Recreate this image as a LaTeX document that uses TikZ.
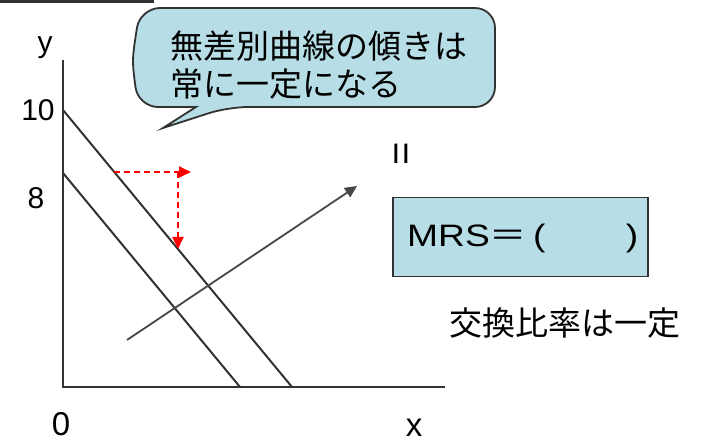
\documentclass[tikz,border=0pt]{standalone}
\usepackage{fontspec}
\usepackage{graphicx}
\setmainfont{Liberation Sans}
\newfontfamily\jp{Noto Sans CJK JP}
\usetikzlibrary{arrows.meta}
\definecolor{boxblue}{RGB}{183,222,230}
\definecolor{edge}{RGB}{50,50,50}
\tikzset{
  lab/.style={font=\fontsize{30}{30}\selectfont, inner sep=0pt},
  jlab/.style={font=\jp\fontsize{33}{40}\selectfont, inner sep=0pt, anchor=west},
  axisline/.style={line width=2.6pt, draw=edge},
  budget/.style={line width=2pt, draw=edge},
  ray/.style={line width=1.8pt, draw=edge!90, -{Triangle[length=12pt,width=11pt]}},
  redarrow/.style={line width=1.8pt, draw=red, dash pattern=on 6pt off 4pt, -{Triangle[length=12pt,width=11pt]}},
}
\begin{document}
\begin{tikzpicture}[x=1pt,y=-1pt]
\useasboundingbox (0,0) rectangle (707,443);
% cropped box edge at top-left
\draw[line width=2.4pt, draw=edge] (0,1.5) -- (153,1.5) -- (153,0);
% callout
\draw[line width=1.8pt, draw=edge, fill=boxblue]
  (196,107) [rounded corners=20] -- (138,107) .. controls (132,60) .. (140,8) -- (495,8) -- (495,107) -- (228,107) [sharp corners] -- (163,128) -- cycle;
\node[jlab] (t1) at (170,46) {無差別曲線の傾きは};
\node[jlab] (t2) at (170,84) {常に一定になる};
% axes
\coordinate (O) at (63,387);
\coordinate (ytop) at (63,60);
\coordinate (xend) at (445,387);
\draw[axisline] (ytop) -- (O) -- (xend);
\node[lab] (ly) at (45,48) {y};
\node[lab] (l10) at (38,110) {10};
\node[lab] (l8) at (36,198) {8};
\node[lab, font=\fontsize{33}{33}\selectfont] (l0) at (61,424) {0};
\node[lab, font=\fontsize{33}{33}\selectfont] (lx) at (414,428) {x};
% budget lines
\coordinate (a1) at (63,110);
\coordinate (b1) at (292,387);
\coordinate (a2) at (63,173);
\coordinate (b2) at (240,387);
\draw[budget] (a1) -- (b1);
\draw[budget] (a2) -- (b2);
% ray
\coordinate (r0) at (127,340);
\coordinate (r1) at (357,186);
\draw[ray] (r0) -- (r1);
% red dashed arrows
\coordinate (p0) at (114,172);
\coordinate (p1) at (191,172);
\coordinate (q0) at (178,172);
\coordinate (q1) at (178,249);
\draw[redarrow] (p0) -- (p1);
\draw[redarrow] (q0) -- (q1);
% equals sign (vertical)
\node[lab, rotate=90, font=\fontsize{40}{40}\selectfont] (eq) at (404.5,154) {=};
% MRS box
\node[draw=edge, line width=1.8pt, fill=boxblue, minimum width=255pt, minimum height=79pt, inner sep=0pt] (mrs) at (520.5,237) {};
\node[lab, anchor=west, font=\fontsize{31}{31}\selectfont] (mrst) at (407,238) {\scalebox{1.2}[1]{MRS{\jp＝}\hspace{5pt}(\hspace{67pt})}};
\node[jlab] (rate) at (449,323) {交換比率は一定};
\end{tikzpicture}
\end{document}
